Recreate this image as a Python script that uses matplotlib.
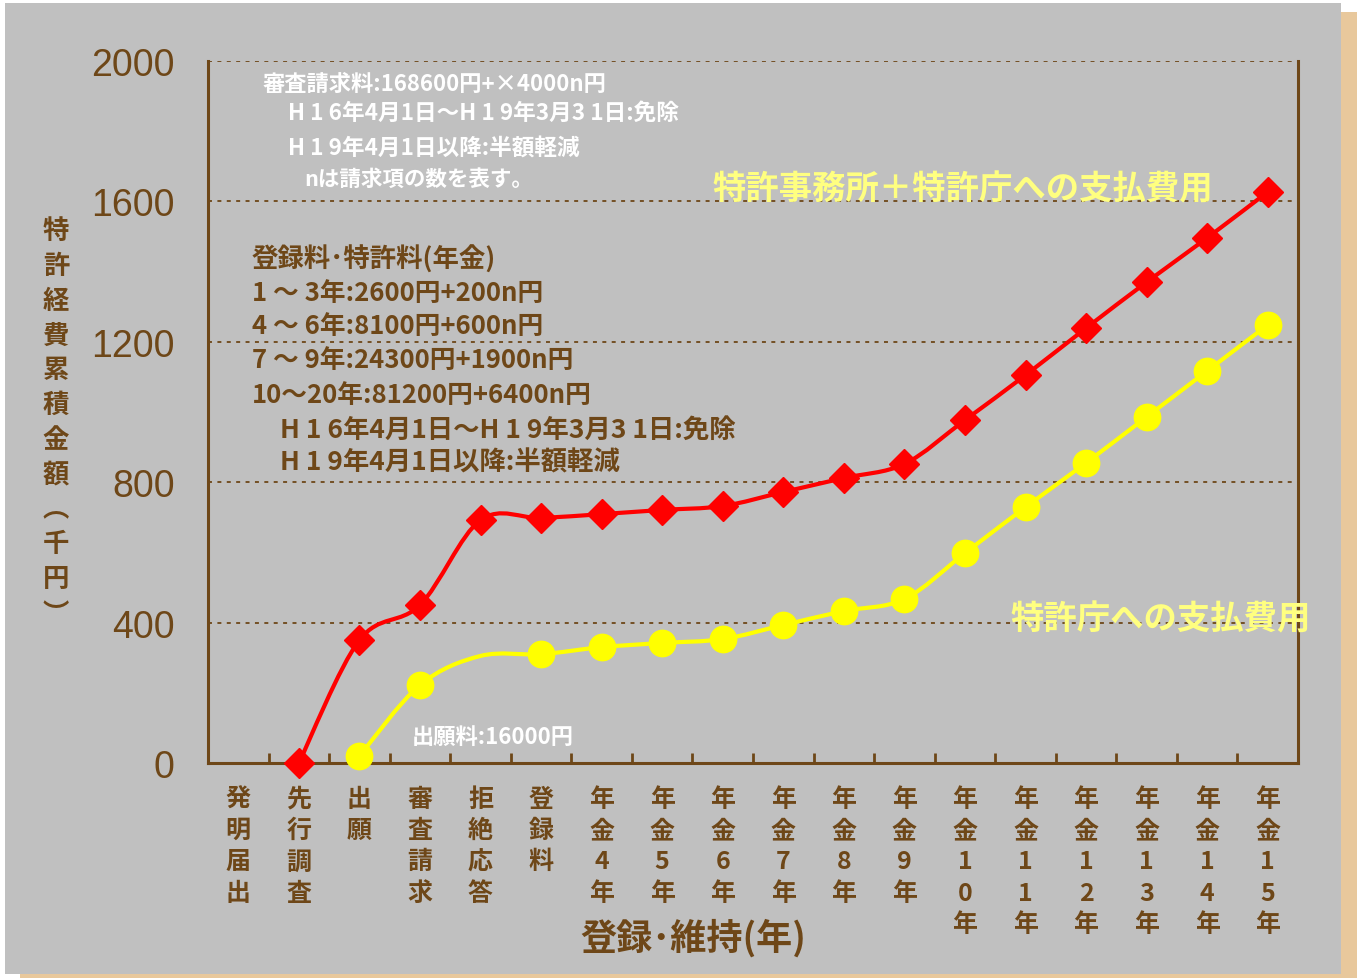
import numpy as np
import matplotlib.pyplot as plt
import matplotlib.transforms as mtransforms
from matplotlib.path import Path
from matplotlib.patches import PathPatch, Rectangle

W, H = 1359, 979
BROWN = '#6E4718'
GRAY = '#C0C0C0'
CJK = ['Noto Sans CJK JP', 'DejaVu Sans']

categories = ['発明届出', '先行調査', '出願', '審査請求', '拒絶応答', '登録料',
              '年金4年', '年金5年', '年金6年', '年金7年', '年金8年', '年金9年',
              '年金10年', '年金11年', '年金12年', '年金13年', '年金14年', '年金15年']

# 特許事務所 + 特許庁 (千円), from 先行調査 onwards
total_start = 1
total_cost = [0, 350, 450, 692, 698, 709, 721, 732, 772, 812, 852,
              977, 1105, 1239, 1370, 1496, 1627]

# 特許庁のみ (千円), from 出願 onwards; 拒絶応答 has no marker
office_start = 2
office_cost = [20, 222, 305, 310, 330, 342, 353, 393, 433, 467,
               598, 729, 855, 986, 1117, 1248]
office_hidden = [2]

yticks = [0, 400, 800, 1200, 1600, 2000]


def smooth_path(xs, ys):
    # smoothed line like the spreadsheet's, built from bezier segments
    pts = np.column_stack([xs, ys]).astype(float)
    n = len(pts)
    verts = [pts[0]]
    codes = [Path.MOVETO]
    for i in range(n - 1):
        p0 = pts[i - 1] if i > 0 else pts[i]
        p1, p2 = pts[i], pts[i + 1]
        p3 = pts[i + 2] if i + 2 < n else pts[i + 1]
        verts += [p1 + (p2 - p0) / 6, p2 - (p3 - p1) / 6, p2]
        codes += [Path.CURVE4] * 3
    return Path(verts, codes)


def put(text, x, y, **kw):
    kw.setdefault('va', 'center')
    kw.setdefault('ha', 'left')
    kw.setdefault('family', CJK)
    kw.setdefault('fontweight', 'bold')
    fig.text(x / W, 1 - y / H, text, **kw)


fig = plt.figure(figsize=(W / 100, H / 100), dpi=100, facecolor='white')

# panel and its shadow
fig.patches.append(Rectangle((1341 / W, 0), 16 / W, 1 - 13 / H, transform=fig.transFigure,
                             facecolor='#E8C89C', edgecolor='none', zorder=-2))
fig.patches.append(Rectangle((20 / W, 0), 1321 / W, 5 / H, transform=fig.transFigure,
                             facecolor='#E8C89C', edgecolor='none', zorder=-2))
fig.patches.append(Rectangle((5 / W, 4 / H), 1336 / W, 1 - 8 / H, transform=fig.transFigure,
                             facecolor=GRAY, edgecolor='none', zorder=-1))

ax = fig.add_axes([208 / W, 1 - 764 / H, 1090 / W, 702 / H])
ax.set_facecolor('none')
ax.set_xlim(0, len(categories))
ax.set_ylim(0, 2000)

centers = np.arange(len(categories)) + 0.5

# red: total
tx = centers[total_start:total_start + len(total_cost)]
ax.add_patch(PathPatch(smooth_path(tx, total_cost), facecolor='none',
                       edgecolor='#FF0000', linewidth=3, zorder=3))
ax.plot(tx, total_cost, linestyle='none', marker='D', markersize=15,
        color='#FF0000', zorder=4, clip_on=False)

# yellow: patent office only
ox = centers[office_start:office_start + len(office_cost)]
ax.add_patch(PathPatch(smooth_path(ox, office_cost), facecolor='none',
                       edgecolor='#FFFF00', linewidth=3, zorder=3))
shown = [i for i in range(len(office_cost)) if i not in office_hidden]
ax.plot(ox, office_cost, linestyle='none', marker='o', markersize=19,
        color='#FFFF00', markevery=shown, zorder=4, clip_on=False)

# axes styling
for side in ['left', 'right', 'bottom']:
    ax.spines[side].set_color(BROWN)
    ax.spines[side].set_linewidth(2.2)
ax.spines['top'].set_visible(False)
ax.set_axisbelow(True)
ax.yaxis.grid(True, linestyle=(0, (2.2, 3)), color=BROWN, linewidth=1.3)

ax.set_yticks(yticks)
ax.set_yticklabels([str(v) for v in yticks], family='Liberation Sans',
                   fontsize=27, color=BROWN, va='center')
ax.tick_params(axis='y', length=0, pad=24)
shift = mtransforms.ScaledTranslation(0, -4 / 100, fig.dpi_scale_trans)
for lbl in ax.get_yticklabels():
    lbl.set_transform(lbl.get_transform() + shift)

ax.set_xticks(centers)
ax.set_xticklabels(['\n'.join(c) for c in categories], family=CJK,
                   fontweight='bold', fontsize=18, color=BROWN, linespacing=1.39)
ax.tick_params(axis='x', length=0, pad=17)
ax.set_xticks(np.arange(len(categories) + 1), minor=True)
ax.tick_params(axis='x', which='minor', direction='in', length=7, width=2, color=BROWN)

put('登録･維持(年)', 693, 938, ha='center', fontsize=26, color=BROWN)
put('\n'.join('特許経費累積金額︵千円︶'), 56, 423, ha='center', fontsize=19,
    color=BROWN, linespacing=1.37)

# white notes
WHITE = 'white'
put('審査請求料:168600円+×4000n円', 263, 84, fontsize=16, color=WHITE)
put('H 1 6年4月1日～H 1 9年3月3 1日:免除', 288, 113, fontsize=16.3, color=WHITE)
put('H 1 9年4月1日以降:半額軽減', 288, 149, fontsize=16.3, color=WHITE)
put('nは請求項の数を表す。', 304, 179, fontsize=15.5, color=WHITE)
put('出願料:16000円', 412, 737, fontsize=16, color=WHITE)

# brown notes
put('登録料･特許料(年金)', 252, 260, fontsize=19, color=BROWN)
put('1 ～ 3年:2600円+200n円', 252, 294, fontsize=18.5, color=BROWN)
put('4 ～ 6年:8100円+600n円', 252, 327, fontsize=18.5, color=BROWN)
put('7 ～ 9年:24300円+1900n円', 252, 361, fontsize=18.5, color=BROWN)
put('10～20年:81200円+6400n円', 252, 396, fontsize=18.5, color=BROWN)
put('H 1 6年4月1日～H 1 9年3月3 1日:免除', 280, 430, fontsize=19, color=BROWN)
put('H 1 9年4月1日以降:半額軽減', 280, 463, fontsize=19, color=BROWN)

# series labels
put('特許事務所＋特許庁への支払費用', 712, 190, fontsize=24, color='#FFFF80')
put('特許庁への支払費用', 1010, 620, fontsize=24, color='#FFFF80')

fig.savefig('out.png', dpi=100, facecolor=fig.get_facecolor())
